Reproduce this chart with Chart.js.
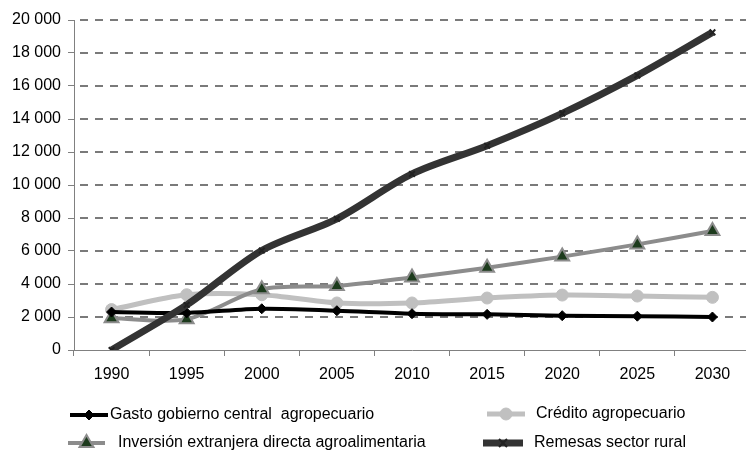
<!DOCTYPE html>
<html>
<head>
<meta charset="utf-8">
<script src="https://cdn.jsdelivr.net/npm/chart.js@4/dist/chart.umd.min.js"></script>
<style>
  html, body { margin: 0; padding: 0; background: #fff; overflow: hidden; }
  #wrap { width: 746px; height: 454px; overflow: hidden; }
</style>
</head>
<body>
<div id="wrap"><canvas id="mycanvas" width="760" height="454"></canvas></div>
<script>
var years = ['1990', '1995', '2000', '2005', '2010', '2015', '2020', '2025', '2030'];
var gasto = [2300, 2250, 2500, 2380, 2200, 2160, 2080, 2050, 2000];
var credito = [2450, 3350, 3350, 2850, 2850, 3150, 3330, 3270, 3190];
var inversion = [1930, 1870, 3680, 3880, 4400, 4990, 5660, 6400, 7210];
var remesas = [0, 2730, 6030, 7950, 10670, 12380, 14340, 16640, 19250];
var yTicks = [0, 2000, 4000, 6000, 8000, 10000, 12000, 14000, 16000, 18000, 20000];

var FONT = "'Liberation Sans', Arial, sans-serif";

function fmt(v) {
  return String(v).replace(/\B(?=(\d{3})+(?!\d))/g, ' ');
}

function marker(ctx, style, x, y, r, fill, stroke, bw) {
  ctx.save();
  ctx.fillStyle = fill;
  ctx.strokeStyle = stroke;
  ctx.lineWidth = bw;
  ctx.beginPath();
  if (style == 'rectRot') {
    ctx.moveTo(x, y - r); ctx.lineTo(x + r, y); ctx.lineTo(x, y + r); ctx.lineTo(x - r, y);
    ctx.closePath();
  } else if (style == 'circle') {
    ctx.arc(x, y, r, 0, Math.PI * 2);
  } else if (style == 'triangle') {
    ctx.moveTo(x, y - r); ctx.lineTo(x + r * 0.87, y + r * 0.5); ctx.lineTo(x - r * 0.87, y + r * 0.5);
    ctx.closePath();
  } else {
    ctx.moveTo(x - r, y - r); ctx.lineTo(x + r, y + r);
    ctx.moveTo(x + r, y - r); ctx.lineTo(x - r, y + r);
  }
  if (style != 'crossRot') ctx.fill();
  if (bw) ctx.stroke();
  ctx.restore();
}

// dashed horizontal grid (dashes as small rects), drawn before the lines
var dashGrid = {
  id: 'dashGrid',
  beforeDatasetsDraw: function(chart) {
    var c = chart.ctx, ys = chart.scales.y, a = chart.chartArea;
    c.save();
    c.fillStyle = '#7a7a7a';
    for (var i = 1; i < yTicks.length; i++) {
      var py = Math.round(ys.getPixelForValue(yTicks[i]));
      for (var x = a.left + 6; x < chart.width; x += 15) {
        c.fillRect(x, py - 1, 8, 2);
      }
    }
    c.restore();
  }
};

// legend laid out in two columns like the original
var legendPos = [
  { x0: 70, x1: 108, y: 415, tx: 110 },
  { x0: 487, x1: 525, y: 414, tx: 536 },
  { x0: 68, x1: 105, y: 443, tx: 118 },
  { x0: 483, x1: 523, y: 443, tx: 534 }
];

var legendPlugin = {
  id: 'twoColLegend',
  afterDraw: function(chart) {
    var ctx = chart.ctx;
    chart.data.datasets.forEach(function(ds, i) {
      var p = legendPos[i];
      ctx.save();
      ctx.strokeStyle = ds.borderColor;
      ctx.lineWidth = ds.borderWidth;
      ctx.beginPath();
      ctx.moveTo(p.x0, p.y);
      ctx.lineTo(p.x1, p.y);
      ctx.stroke();
      ctx.restore();
      marker(ctx, ds.pointStyle, (p.x0 + p.x1) / 2, p.y, ds.pointRadius,
        ds.pointBackgroundColor, ds.pointBorderColor, ds.pointBorderWidth);
      ctx.save();
      ctx.fillStyle = '#000';
      ctx.font = '16px ' + FONT;
      ctx.textBaseline = 'middle';
      ctx.fillText(ds.label, p.tx, p.y);
      ctx.restore();
    });
  }
};

var chartdata = {
  labels: years,
  datasets: [
    {
      label: 'Gasto gobierno central  agropecuario',
      data: gasto,
      borderColor: '#000000',
      borderWidth: 4,
      pointStyle: 'rectRot',
      pointRadius: 5,
      pointBackgroundColor: '#000000',
      pointBorderColor: '#000000',
      pointBorderWidth: 1,
      order: 1
    },
    {
      label: 'Crédito agropecuario',
      data: credito,
      borderColor: '#c0c0c0',
      borderWidth: 5,
      pointStyle: 'circle',
      pointRadius: 6,
      pointBackgroundColor: '#c0c0c0',
      pointBorderColor: '#c0c0c0',
      pointBorderWidth: 1,
      order: 3
    },
    {
      label: 'Inversión extranjera directa agroalimentaria',
      data: inversion,
      borderColor: '#8c8c8c',
      borderWidth: 4,
      pointStyle: 'triangle',
      pointRadius: 8,
      pointBackgroundColor: '#1d3b1d',
      pointBorderColor: '#8c8c8c',
      pointBorderWidth: 2,
      order: 2
    },
    {
      label: 'Remesas sector rural',
      data: remesas,
      borderColor: '#333333',
      borderWidth: 7,
      pointStyle: 'crossRot',
      pointRadius: 4,
      pointBackgroundColor: '#333333',
      pointBorderColor: '#222222',
      pointBorderWidth: 2,
      order: 0
    }
  ]
};

var ctx = document.getElementById('mycanvas');

var lineGraph = new Chart(ctx, {
  type: 'line',
  data: chartdata,
  plugins: [dashGrid, legendPlugin],
  options: {
    responsive: false,
    animation: false,
    devicePixelRatio: 1,
    layout: { padding: { left: 0, right: 6, top: 20, bottom: 0 } },
    plugins: {
      legend: { display: false },
      tooltip: { enabled: false }
    },
    elements: { line: { tension: 0.3, fill: false } },
    scales: {
      x: {
        offset: true,
        grid: {
          offset: true,
          drawOnChartArea: false,
          drawTicks: true,
          tickLength: 6,
          tickColor: '#808080',
          tickWidth: 1
        },
        border: { color: '#808080', width: 1 },
        ticks: {
          color: '#000',
          padding: 9,
          maxRotation: 0,
          font: { family: FONT, size: 16 }
        },
        afterFit: function(scale) { scale.height = 104; }
      },
      y: {
        min: 0,
        max: 20000,
        afterBuildTicks: function(scale) {
          scale.ticks = yTicks.map(function(v) { return { value: v }; });
        },
        grid: {
          drawOnChartArea: false,
          drawTicks: true,
          tickLength: 6,
          tickColor: '#808080'
        },
        border: { color: '#808080', width: 1 },
        ticks: {
          color: '#000',
          padding: 7,
          font: { family: FONT, size: 16 },
          callback: function(v) { return fmt(v); }
        },
        afterFit: function(scale) { scale.width = 74; }
      }
    }
  }
});
</script>
</body>
</html>
